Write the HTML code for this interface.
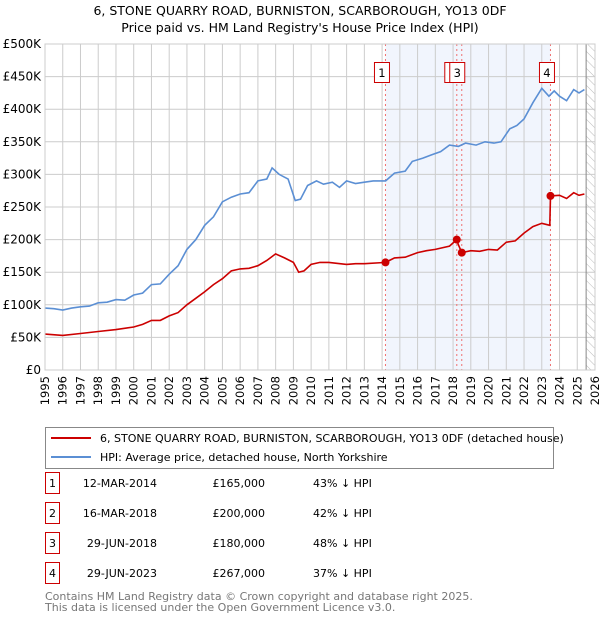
<!DOCTYPE html>
<html><head><meta charset="utf-8"><style>
body{margin:0;background:#fff;font-family:"Liberation Sans","DejaVu Sans",sans-serif;}
svg text{font-family:"DejaVu Sans","Liberation Sans",sans-serif;}
</style></head><body>
<svg id="c" width="600" height="620" xmlns="http://www.w3.org/2000/svg">
<defs><pattern id="hatch" width="6" height="6" patternUnits="userSpaceOnUse" patternTransform="rotate(-45)"><line x1="0" y1="0" x2="0" y2="6" stroke="#bbb" stroke-width="1"/></pattern></defs>
<text x="300" y="15" text-anchor="middle" font-size="12.5" fill="#000">6, STONE QUARRY ROAD, BURNISTON, SCARBOROUGH, YO13 0DF</text>
<text x="300" y="32" text-anchor="middle" font-size="12.5" fill="#000">Price paid vs. HM Land Registry's House Price Index (HPI)</text>
<g id="plot"></g>
<rect x="45.5" y="427.5" width="508" height="41" fill="#fff" stroke="#888"/>
<line x1="51" y1="438" x2="91" y2="438" stroke="#cc0000" stroke-width="2"/>
<text x="100" y="442" font-size="11">6, STONE QUARRY ROAD, BURNISTON, SCARBOROUGH, YO13 0DF (detached house)</text>
<line x1="51" y1="457" x2="91" y2="457" stroke="#5b8fd4" stroke-width="2"/>
<text x="100" y="461" font-size="11">HPI: Average price, detached house, North Yorkshire</text>
<g id="tbl"></g>
<text x="45" y="600" font-size="11" fill="#777">Contains HM Land Registry data © Crown copyright and database right 2025.</text>
<text x="45" y="611" font-size="11" fill="#777">This data is licensed under the Open Government Licence v3.0.</text>
</svg>
<script>
const hpiX=[1995,1995.5,1996,1996.5,1997,1997.5,1998,1998.5,1999,1999.5,2000,2000.5,2001,2001.5,2002,2002.5,2003,2003.5,2004,2004.5,2005,2005.5,2006,2006.5,2007,2007.5,2007.8,2008.2,2008.7,2009.1,2009.4,2009.8,2010.3,2010.7,2011.2,2011.6,2012,2012.5,2013,2013.5,2014.2,2014.7,2015.3,2015.7,2016.3,2016.8,2017.3,2017.8,2018.3,2018.7,2019.3,2019.8,2020.3,2020.7,2021.2,2021.6,2022,2022.5,2023,2023.4,2023.7,2024,2024.4,2024.8,2025.1,2025.4];
const hpiV=[95,94,92,95,97,98,103,104,108,107,115,118,131,132,147,160,185,200,222,235,258,265,270,272,290,293,310,300,293,260,262,283,290,285,288,280,290,286,288,290,290,302,305,320,325,330,335,345,343,348,345,350,348,350,370,375,385,410,432,420,428,420,413,430,425,430];
const priceX=[1995,1996,1997,1998,1999,2000,2000.5,2001,2001.5,2002,2002.5,2003,2003.5,2004,2004.5,2005,2005.5,2006,2006.5,2007,2007.5,2008,2008.5,2009,2009.3,2009.6,2010,2010.5,2011,2012,2012.5,2013,2014.19,2014.7,2015.3,2016,2016.5,2017,2017.8,2018.21,2018.3,2018.49,2019,2019.5,2020,2020.5,2021,2021.5,2022,2022.5,2023,2023.45,2023.49,2024,2024.4,2024.8,2025.1,2025.4];
const priceV=[55,53,56,59,62,66,70,76,76,83,88,100,110,120,131,140,152,155,156,160,168,178,172,165,150,152,162,165,165,162,163,163,165,172,173,180,183,185,190,200,192,180,183,182,185,184,196,198,210,220,225,222,267,268,263,272,268,270];
const saleIds=["1","2","3","4"];
const saleX=[2014.19,2018.21,2018.49,2023.49];
const saleV=[165,200,180,267];
const saleDates=["12-MAR-2014","16-MAR-2018","29-JUN-2018","29-JUN-2023"];
const salePrices=["£165,000","£200,000","£180,000","£267,000"];
const salePct=["43% ↓ HPI","42% ↓ HPI","48% ↓ HPI","37% ↓ HPI"];
const yTicks=[0,50,100,150,200,250,300,350,400,450,500];
const yLabels=["£0","£50K","£100K","£150K","£200K","£250K","£300K","£350K","£400K","£450K","£500K"];
const xYears=[1995,1996,1997,1998,1999,2000,2001,2002,2003,2004,2005,2006,2007,2008,2009,2010,2011,2012,2013,2014,2015,2016,2017,2018,2019,2020,2021,2022,2023,2024,2025,2026];

const NS="http://www.w3.org/2000/svg";
const L=45,R=595,T=44,B=370;
const sx=y=>L+(y-1995)*(R-L)/31;
const sy=v=>B-v*(B-T)/500;
const plot=document.getElementById('plot');
function mk(tag,attrs,parent){const e=document.createElementNS(NS,tag);for(const k in attrs)e.setAttribute(k,attrs[k]);(parent||plot).appendChild(e);return e;}

let sh=mk('rect',{x:sx(saleX[0]),y:T,width:sx(saleX[3])-sx(saleX[0]),height:B-T,fill:'#eef3fc',opacity:0.8});


let ht=mk('rect',{x:sx(2025.5),y:T,width:R-sx(2025.5),height:B-T,fill:'url(#hatch)'});


xYears.forEach(y=>{const g=mk('line',{x1:sx(y),x2:sx(y),y1:T,y2:B,stroke:'#ccc','stroke-width':1});


const t=mk('text',{x:0,y:0,'font-size':11.5,transform:`translate(${sx(y)+4},${B+6}) rotate(-90)`,'text-anchor':'end'});t.textContent=y;

});
yTicks.forEach((v,i)=>{const g=mk('line',{x1:L,x2:R,y1:sy(v),y2:sy(v),stroke:'#ccc','stroke-width':1});


const t=mk('text',{x:L-4,y:sy(v)+4,'font-size':12,'text-anchor':'end'});t.textContent=yLabels[i];

});
let ed=mk('line',{x1:sx(2025.5),x2:sx(2025.5),y1:T,y2:B,stroke:'#888','stroke-width':1});


saleX.forEach((x,i)=>{const l=mk('line',{x1:sx(x),x2:sx(x),y1:T,y2:B,stroke:'#f07070','stroke-width':1,'stroke-dasharray':'2,3'});

});
const pts=(xs,vs)=>xs.map((x,i)=>sx(x).toFixed(1)+','+sy(vs[i]).toFixed(1)).join(' ');
let hl=mk('polyline',{points:pts(hpiX,hpiV),fill:'none',stroke:'#5b8fd4','stroke-width':1.6});


let pl=mk('polyline',{points:pts(priceX,priceV),fill:'none',stroke:'#cc0000','stroke-width':1.6});


saleX.forEach((x,i)=>{const c=mk('circle',{cx:sx(x),cy:sy(saleV[i]),r:4,fill:'#cc0000'});


const off=(i==1||i==2)?-12:-11;
const b=mk('rect',{x:sx(x)+off,y:62.5,width:15,height:20,fill:'#fff',stroke:'#cc0000'});


const t=mk('text',{x:sx(x)+off+7.5,y:77,'font-size':11.5,'text-anchor':'middle'});t.textContent=saleIds[i];

});
let ax=mk('rect',{x:L,y:T,width:R-L,height:B-T,fill:'none',stroke:'#ccc'});



const tbl=document.getElementById('tbl');
saleIds.forEach((id,i)=>{const cy=483+i*30;
const b=mk('rect',{x:45.5,y:cy-10.5,width:14,height:21,fill:'#fff',stroke:'#cc0000'},tbl);


const vals=[[52.5,id,'middle'],[157,saleDates[i],'end'],[265,salePrices[i],'end'],[313,salePct[i],'start']];
vals.forEach(v=>{const t=mk('text',{x:v[0],y:cy+4,'font-size':11,'text-anchor':v[2]},tbl);t.textContent=v[1];

});});
</script>
</body></html>
